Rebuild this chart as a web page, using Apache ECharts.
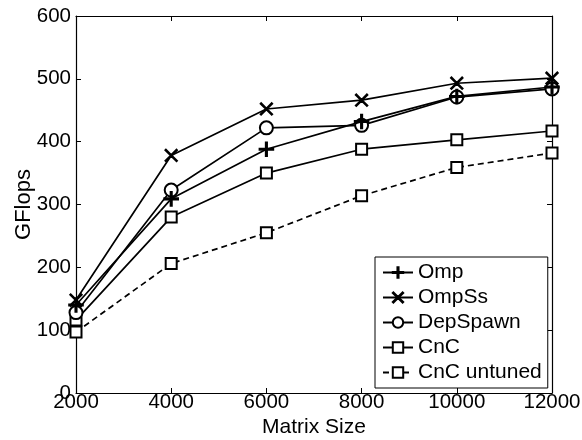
<!DOCTYPE html>
<html>
<head>
<meta charset="utf-8">
<script src="https://cdn.jsdelivr.net/npm/echarts@6/dist/echarts.min.js"></script>
<style>
  html, body { margin: 0; padding: 0; background: #fff; }
  #chart { width: 582px; height: 440px; }
</style>
</head>
<body>
<div id="chart"></div>
<script>
// matrix sizes on the x axis
const sizes = [2000, 4000, 6000, 8000, 10000, 12000];
// GFlops per runtime
const omp = [140, 309, 388, 432, 472, 487];
const ompss = [148, 378, 452, 466, 493, 501];
const depspawn = [128, 323, 422, 426, 471, 484];
const cnc = [116, 280, 350, 388, 403, 417];
const cncUntuned = [97, 206, 255, 314, 359, 382];

const plusPath = "path://M-0.75,-7H0.75V-0.75H7V0.75H0.75V7H-0.75V0.75H-7V-0.75H-0.75Z";
const crossPath = "path://M-6,-5.3L-5.3,-6L0,-0.7L5.3,-6L6,-5.3L0.7,0L6,5.3L5.3,6L0,0.7L-5.3,6L-6,5.3L-0.7,0Z";

const font = "Liberation Sans";
const chart = echarts.init(document.getElementById("chart"));

function pairs(vals) {
  return sizes.map((s, i) => [s, vals[i]]);
}

function line(name, vals, symbol, size, dashed, z) {
  return {
    name: name,
    type: "line",
    data: pairs(vals),
    symbol: symbol,
    symbolSize: size,
    z: z,
    lineStyle: { color: "#000", width: 1.7, type: dashed ? [6, 4] : "solid" },
    itemStyle: { color: "#000", borderColor: "#000", borderWidth: 1.6 },
    animation: false
  };
}

const axisCommon = {
  axisLine: { show: true, onZero: false, lineStyle: { color: "#000", width: 1.2 } },
  axisTick: { show: true, inside: true, length: 5, lineStyle: { color: "#000" } },
  splitLine: { show: false }
};

chart.setOption({
  backgroundColor: "#fff",
  textStyle: { fontFamily: font },
  grid: { left: 76, right: 30, top: 16, bottom: 47, containLabel: false, outerBoundsMode: "none" },
  xAxis: [
    Object.assign({
      type: "value", min: 2000, max: 12000, interval: 2000,
      name: "Matrix Size", nameLocation: "middle", nameGap: 24, nameMoveOverlap: false,
      nameTextStyle: { fontSize: 21, color: "#000", fontFamily: font },
      axisLabel: { fontSize: 20.5, color: "#000", margin: -1, fontFamily: font,
        formatter: (v) => String(v) }
    }, axisCommon),
    Object.assign({
      type: "value", min: 2000, max: 12000, interval: 2000, position: "top",
      axisLabel: { show: false }
    }, axisCommon)
  ],
  yAxis: [
    Object.assign({
      type: "value", min: 0, max: 600, interval: 100,
      name: "GFlops", nameLocation: "middle", nameGap: 41, nameMoveOverlap: false,
      nameTextStyle: { fontSize: 22, color: "#000", fontFamily: font },
      axisLabel: { fontSize: 20.5, color: "#000", margin: 5, fontFamily: font }
    }, axisCommon),
    Object.assign({
      type: "value", min: 0, max: 600, interval: 100, position: "right",
      axisLabel: { show: false }
    }, axisCommon)
  ],
  legend: {
    orient: "vertical",
    left: 375,
    top: 257,
    backgroundColor: "#fff",
    borderColor: "#000",
    borderWidth: 1,
    borderRadius: 0,
    padding: [5, 6, 5, 7],
    itemWidth: 30,
    itemHeight: 13,
    itemGap: 4,
    textStyle: { fontSize: 21, color: "#000", fontFamily: font },
    data: ["Omp", "OmpSs", "DepSpawn", "CnC", "CnC untuned"]
  },
  series: [
    line("Omp", omp, plusPath, 14, false, 5),
    line("OmpSs", ompss, crossPath, 12, false, 4),
    line("DepSpawn", depspawn, "emptyCircle", 13, false, 3),
    line("CnC", cnc, "emptyRect", 11, false, 2),
    line("CnC untuned", cncUntuned, "emptyRect", 11, true, 2)
  ]
});
</script>
</body>
</html>
